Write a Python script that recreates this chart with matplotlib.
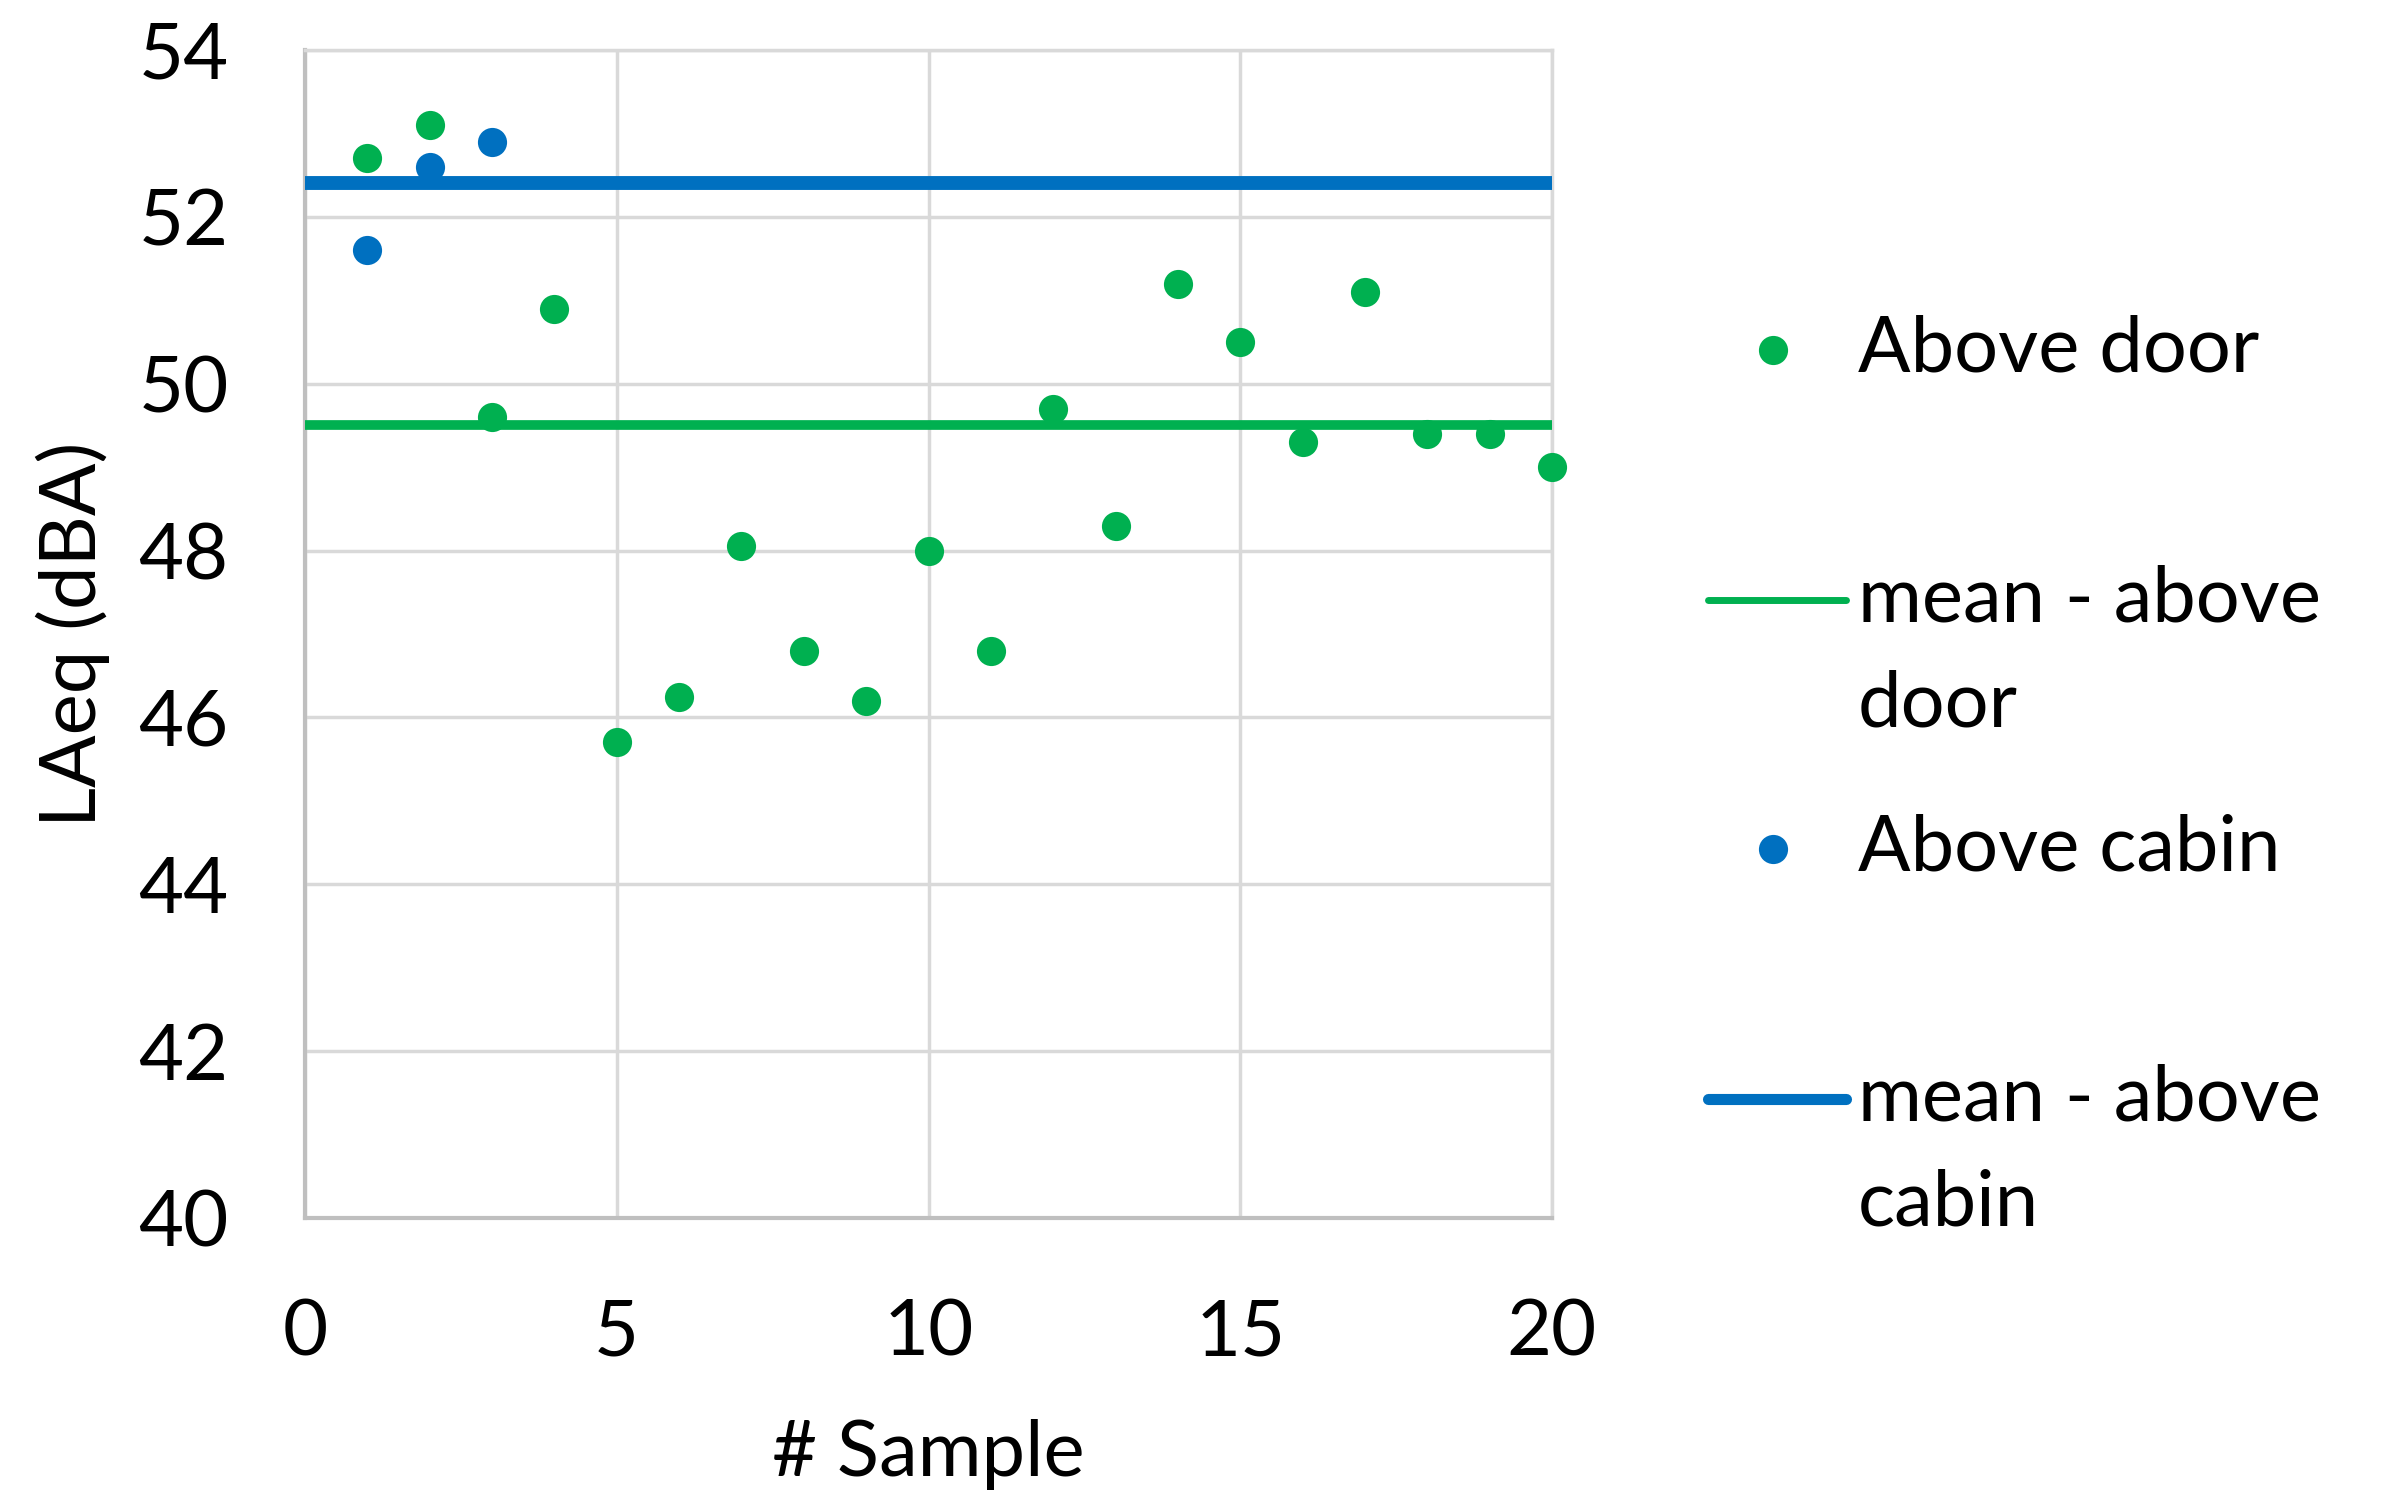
import matplotlib
matplotlib.use("Agg")
import matplotlib.pyplot as plt
from matplotlib.lines import Line2D

plt.rcParams['font.family'] = ['Lato', 'DejaVu Sans']

# Sample numbers and LAeq readings
door_x = list(range(1, 21))
door_y = [52.7, 53.1, 49.6, 50.9, 45.7, 46.25, 48.05, 46.8, 46.2, 48.0,
          46.8, 49.7, 48.3, 51.2, 50.5, 49.3, 51.1, 49.4, 49.4, 49.0]
cabin_x = [1, 2, 3]
cabin_y = [51.6, 52.6, 52.9]

# Mean levels drawn as horizontal lines across the sample range
mean_x = [0, 20]
mean_door = 49.5
mean_cabin = 52.4

x_ticks = [0, 5, 10, 15, 20]
y_ticks = [40, 42, 44, 46, 48, 50, 52, 54]

GREEN = "#00B050"
BLUE = "#0070C0"
GRID = "#D9D9D9"
SPINE = "#BFBFBF"
FS = 56

W, H = 2391, 1493
fig = plt.figure(figsize=(W / 100, H / 100), dpi=100)
ax = fig.add_axes([305 / W, 1 - 1218 / H, (1552 - 305) / W, (1218 - 50) / H])

ax.plot(mean_x, [mean_door, mean_door], color=GREEN, lw=7, solid_capstyle='butt', zorder=3)
ax.plot(mean_x, [mean_cabin, mean_cabin], color=BLUE, lw=10, solid_capstyle='butt', zorder=3)
ax.plot(door_x, door_y, 'o', color=GREEN, ms=21, mew=0, zorder=4, clip_on=False)
ax.plot(cabin_x, cabin_y, 'o', color=BLUE, ms=21, mew=0, zorder=4, clip_on=False)

ax.set_xlim(0, 20)
ax.set_ylim(40, 54)
ax.set_xticks(x_ticks)
ax.set_yticks(y_ticks)
ax.tick_params(length=0, labelsize=FS)
ax.tick_params(axis='y', pad=55)
ax.tick_params(axis='x', pad=58)
ax.grid(True, color=GRID, lw=2.5)
ax.set_axisbelow(True)
for side in ['top', 'right']:
    ax.spines[side].set_color(GRID)
    ax.spines[side].set_linewidth(2.5)
for side in ['left', 'bottom']:
    ax.spines[side].set_color(SPINE)
    ax.spines[side].set_linewidth(3)

ax.set_xlabel("# Sample", fontsize=FS)
ax.set_ylabel("LAeq (dBA)", fontsize=FS)
ax.xaxis.set_label_coords(0.5, (1 - 1455 / H - (1 - 1218 / H)) / ((1218 - 50) / H), transform=ax.transAxes)
ax.yaxis.set_label_coords((73 - 305) / (1552 - 305), 0.5, transform=ax.transAxes)
ax.xaxis.label.set_va('center')
ax.yaxis.label.set_va('center')

# Legend built from figure-space artists
def fx(px):
    return px / W


def fy(py):
    return 1 - py / H


text_x = fx(1858)
entries = [
    ("marker", GREEN, 0, "Above door", 350),
    ("line", GREEN, 5, "mean - above\ndoor", 600),
    ("marker", BLUE, 0, "Above cabin", 849),
    ("line", BLUE, 8, "mean - above\ncabin", 1099),
]
for kind, color, lw, label, ypx in entries:
    if kind == "marker":
        fig.add_artist(Line2D([fx(1773)], [fy(ypx)], marker='o', color=color,
                              ms=21, mew=0, transform=fig.transFigure))
    else:
        fig.add_artist(Line2D([fx(1708)], [fy(ypx)], transform=fig.transFigure, lw=0))
        fig.add_artist(Line2D([fx(1708), fx(1846)], [fy(ypx), fy(ypx)], color=color,
                              lw=lw, solid_capstyle='round', transform=fig.transFigure))
    lines = label.split('\n')
    for i, part in enumerate(lines):
        fig.text(text_x, fy(ypx + 105 * i), part, fontsize=FS, va='center', ha='left')

fig.savefig("out.png", dpi=100)
